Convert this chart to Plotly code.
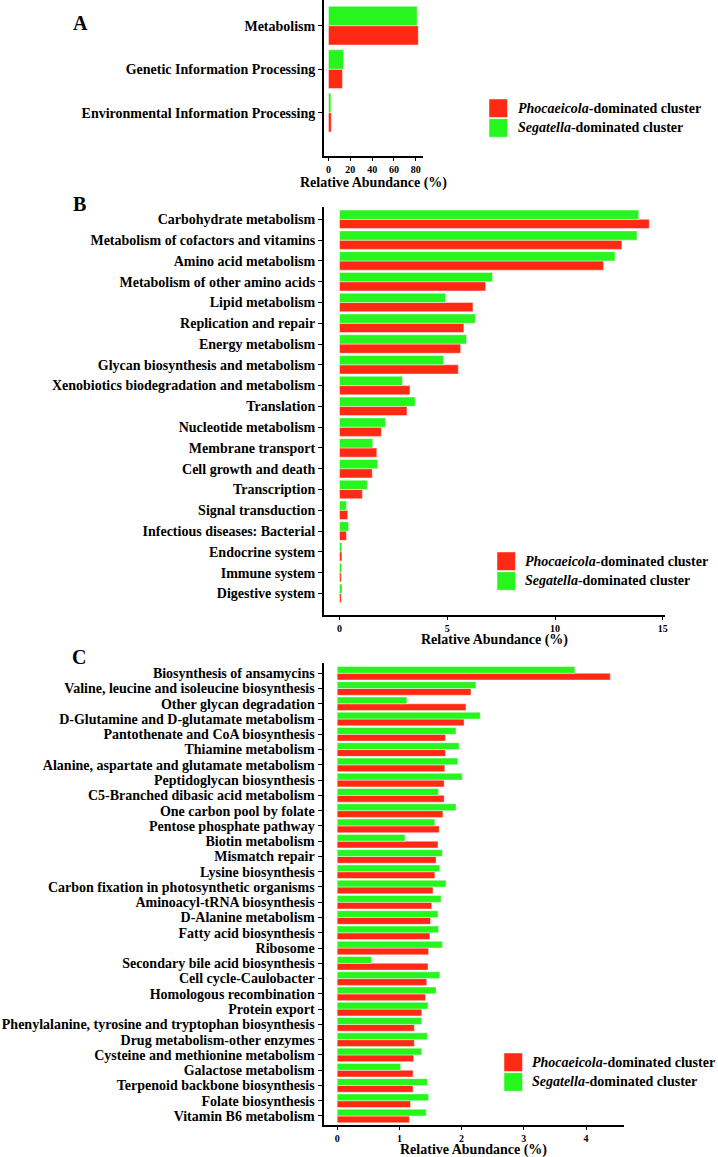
import plotly.graph_objects as go

W, H = 718, 1157
RED = "#FF2A14"
GREEN = "#26F51E"
FONT = "'Times New Roman', 'Liberation Serif', Times, serif"

# ---------------- data (top-to-bottom order as drawn) ----------------
a_cats = ["Metabolism", "Genetic Information Processing",
          "Environmental Information Processing"]
a_phoc = [82.3, 12.8, 2.6]
a_seg = [81.2, 13.9, 2.2]

b_cats = ["Carbohydrate metabolism", "Metabolism of cofactors and vitamins",
          "Amino acid metabolism", "Metabolism of other amino acids",
          "Lipid metabolism", "Replication and repair", "Energy metabolism",
          "Glycan biosynthesis and metabolism",
          "Xenobiotics biodegradation and metabolism", "Translation",
          "Nucleotide metabolism", "Membrane transport",
          "Cell growth and death", "Transcription", "Signal transduction",
          "Infectious diseases: Bacterial", "Endocrine system",
          "Immune system", "Digestive system"]
b_phoc = [14.37, 13.10, 12.25, 6.78, 6.19, 5.77, 5.62, 5.51, 3.27, 3.13,
          1.94, 1.73, 1.52, 1.06, 0.38, 0.32, 0.11, 0.08, 0.08]
b_seg = [13.88, 13.80, 12.78, 7.10, 4.92, 6.30, 5.89, 4.82, 2.92, 3.51,
         2.13, 1.54, 1.77, 1.29, 0.32, 0.42, 0.11, 0.10, 0.12]

c_cats = ["Biosynthesis of ansamycins",
          "Valine, leucine and isoleucine biosynthesis",
          "Other glycan degradation",
          "D-Glutamine and D-glutamate metabolism",
          "Pantothenate and CoA biosynthesis", "Thiamine metabolism",
          "Alanine, aspartate and glutamate metabolism",
          "Peptidoglycan biosynthesis",
          "C5-Branched dibasic acid metabolism", "One carbon pool by folate",
          "Pentose phosphate pathway", "Biotin metabolism", "Mismatch repair",
          "Lysine biosynthesis", "Carbon fixation in photosynthetic organisms",
          "Aminoacyl-tRNA biosynthesis", "D-Alanine metabolism",
          "Fatty acid biosynthesis", "Ribosome",
          "Secondary bile acid biosynthesis", "Cell cycle-Caulobacter",
          "Homologous recombination", "Protein export",
          "Phenylalanine, tyrosine and tryptophan biosynthesis",
          "Drug metabolism-other enzymes",
          "Cysteine and methionine metabolism", "Galactose metabolism",
          "Terpenoid backbone biosynthesis", "Folate biosynthesis",
          "Vitamin B6 metabolism"]
c_phoc = [4.39, 2.15, 2.07, 2.04, 1.74, 1.74, 1.73, 1.72, 1.72, 1.70,
          1.64, 1.62, 1.59, 1.57, 1.54, 1.52, 1.50, 1.49, 1.47, 1.46,
          1.44, 1.42, 1.36, 1.24, 1.24, 1.23, 1.22, 1.22, 1.18, 1.16]
c_seg = [3.82, 2.23, 1.12, 2.30, 1.91, 1.96, 1.94, 2.01, 1.63, 1.91,
         1.57, 1.09, 1.69, 1.65, 1.75, 1.67, 1.62, 1.63, 1.69, 0.55,
         1.65, 1.59, 1.46, 1.36, 1.45, 1.36, 1.02, 1.45, 1.47, 1.43]

series_names = ["<i>Phocaeicola</i>-dominated cluster",
                "<i>Segatella</i>-dominated cluster"]
x_title = "Relative Abundance (%)"
panel_letters = ["A", "B", "C"]


def PX(p):
    return p / W


def PY(p):
    return 1 - p / H


panels = [
    dict(cats=a_cats, phoc=a_phoc, seg=a_seg, xdom=(324, 423), ydom=(0, 155.7),
         yrange=(-0.99, 2.59), xrange=(-4.1, 86.6), dtick=20,
         letter=(80, 22.7), title_y=183, leg=(489, 99.0, 516)),
    dict(cats=b_cats, phoc=b_phoc, seg=b_seg, xdom=(324, 665), ydom=(207.3, 615),
         yrange=(-1.04, 18.58), xrange=(-0.72, 15.1), dtick=5,
         letter=(79, 204), title_y=640, leg=(497, 552.0, 523)),
    dict(cats=c_cats, phoc=c_phoc, seg=c_seg, xdom=(323.5, 624), ydom=(663.3, 1125),
         yrange=(-0.59, 29.65), xrange=(-0.22, 4.61), dtick=1,
         letter=(79, 657.3), title_y=1150, leg=(504, 1053.0, 530)),
]

fig = go.Figure()
layout = dict(
    width=W, height=H, template="none",
    margin=dict(l=0, r=0, t=0, b=0),
    paper_bgcolor="white", plot_bgcolor="white",
    barmode="group", bargap=0.11, bargroupgap=0,
    showlegend=False,
    font=dict(family=FONT, color="black"),
)
annotations = []
shapes = []

for i, p in enumerate(panels):
    n = "" if i == 0 else str(i + 1)
    xa, ya = "x" + n, "y" + n
    for vals, col, name in ((p["phoc"], RED, series_names[0]),
                            (p["seg"], GREEN, series_names[1])):
        fig.add_trace(go.Bar(
            y=p["cats"], x=vals, orientation="h", name=name,
            marker=dict(color=col, line=dict(color="rgba(255,255,255,0.55)", width=0.8)),
            xaxis=xa, yaxis=ya, showlegend=False,
        ))
    layout["xaxis" + n] = dict(
        domain=[PX(p["xdom"][0]), PX(p["xdom"][1])], anchor=ya,
        range=list(p["xrange"]), dtick=p["dtick"], tick0=0,
        showgrid=False, zeroline=False, showline=True, linecolor="black",
        linewidth=2, ticks="outside", ticklen=3, tickwidth=1, tickcolor="black",
        tickfont=dict(family=FONT, size=10, color="black", weight="bold"),
        automargin=False, fixedrange=True,
    )
    layout["yaxis" + n] = dict(
        domain=[PY(p["ydom"][1]), PY(p["ydom"][0])], anchor=xa,
        type="category", categoryorder="array",
        categoryarray=list(reversed(p["cats"])),
        tickmode="array", tickvals=p["cats"], ticktext=p["cats"],
        range=list(p["yrange"]),
        showgrid=False, zeroline=False, showline=True, linecolor="black",
        linewidth=2, ticks="outside", ticklen=4, tickwidth=1, tickcolor="black",
        tickfont=dict(family=FONT, size=14, color="black", weight="bold"),
        automargin=False, fixedrange=True,
    )
    # panel letter
    annotations.append(dict(
        text=panel_letters[i], x=PX(p["letter"][0]), y=PY(p["letter"][1]),
        xref="paper", yref="paper", xanchor="center", yanchor="middle",
        showarrow=False, font=dict(family=FONT, size=20, color="black", weight="bold")))
    # axis title
    annotations.append(dict(
        text=x_title, x=PX((p["xdom"][0] + p["xdom"][1]) / 2), y=PY(p["title_y"]),
        xref="paper", yref="paper", xanchor="center", yanchor="middle",
        showarrow=False, font=dict(family=FONT, size=14, color="black", weight="bold")))
    # legend
    lx, ly, tx = p["leg"]
    sz = 18.5
    for k, col in enumerate((RED, GREEN)):
        top = ly + k * (sz + 1.2)
        shapes.append(dict(
            type="rect", xref="paper", yref="paper",
            x0=PX(lx), x1=PX(lx + sz), y0=PY(top + sz), y1=PY(top),
            fillcolor=col, line=dict(color="rgba(255,255,255,0.6)", width=0.8)))
        annotations.append(dict(
            text=series_names[k], x=PX(tx), y=PY(top + sz / 2),
            xref="paper", yref="paper", xanchor="left", yanchor="middle",
            showarrow=False,
            font=dict(family=FONT, size=14, color="black", weight="bold")))

layout["annotations"] = annotations
layout["shapes"] = shapes
fig.update_layout(**layout)
fig.write_html("out.html", config={"displayModeBar": False},
               post_script="document.body.style.margin='0px';")
